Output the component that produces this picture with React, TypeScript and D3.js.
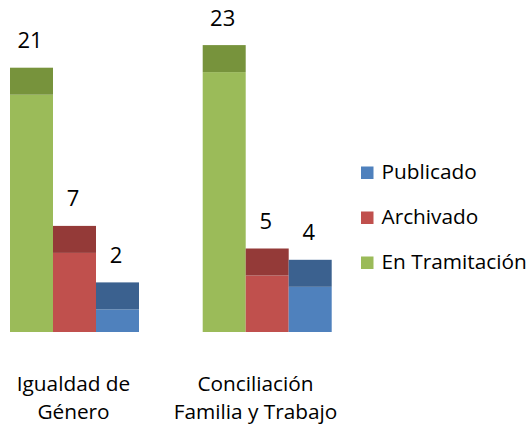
import React from "react";
import * as d3 from "d3";

const categories = ["Igualdad de Género", "Conciliación Familia y Trabajo"];
const categoryLines = [["Igualdad de", "Género"], ["Conciliación", "Familia y Trabajo"]];
const seriesNames = ["En Tramitación", "Archivado", "Publicado"];
const legendOrder = ["Publicado", "Archivado", "En Tramitación"];
const enTramitacion = [21, 23];
const archivado = [7, 5];
const publicado = [2, 4];
const seriesValues: Record<string, number[]> = {
  "En Tramitación": enTramitacion,
  Archivado: archivado,
  Publicado: publicado,
};
const frontColors: Record<string, string> = {
  "En Tramitación": "#9BBB59",
  Archivado: "#C0504D",
  Publicado: "#4F81BD",
};
const topColors: Record<string, string> = {
  "En Tramitación": "#77933C",
  Archivado: "#943A38",
  Publicado: "#3B618F",
};

const W = 532;
const H = 427;
const FONT = "'Open Sans', sans-serif";

export default function App() {
  const baseY = 332;
  const depth = 27;
  const y = d3.scaleLinear().domain([0, 25]).range([baseY, baseY - 25 * 11.3]);
  const x0 = d3
    .scaleBand<string>()
    .domain(categories)
    .range([10, 331.7])
    .paddingInner(0.3306)
    .paddingOuter(0);
  const x1 = d3.scaleBand<string>().domain(seriesNames).range([0, x0.bandwidth()]);
  const xLabel = d3.scalePoint<string>().domain(categories).range([73.5, 255.5]);
  const legendY = d3.scalePoint<string>().domain(legendOrder).range([179, 269]);

  return (
    <svg
      width={W}
      height={H}
      style={{ position: "absolute", left: 0, top: 0, background: "#fff" }}
      fontFamily={FONT}
    >
      {categories.map((c, ci) => (
        <g key={c}>
          {seriesNames.map((s) => {
            const v = seriesValues[s][ci];
            const bx = (x0(c) ?? 0) + (x1(s) ?? 0);
            const bw = x1.bandwidth();
            const yTop = y(v);
            return (
              <g key={s}>
                <rect x={bx} y={yTop} width={bw} height={baseY - yTop} fill={frontColors[s]} />
                <rect x={bx} y={yTop - depth} width={bw} height={depth} fill={topColors[s]} />
                <text
                  x={bx + bw / 2 - 1.5}
                  y={yTop - depth - 19.5}
                  textAnchor="middle"
                  fontSize={22}
                  fill="#000"
                >
                  {v}
                </text>
              </g>
            );
          })}
          {categoryLines[ci].map((line, li) => (
            <text
              key={li}
              x={xLabel(c)}
              y={390.5 + li * 28.3}
              textAnchor="middle"
              fontSize={20.8}
              fill="#000"
            >
              {line}
            </text>
          ))}
        </g>
      ))}
      {legendOrder.map((s) => {
        const ly = legendY(s) ?? 0;
        return (
          <g key={s}>
            <rect x={361} y={ly - 12.5} width={12.5} height={12.5} fill={frontColors[s]} />
            <text x={381.5} y={ly} fontSize={20.8} fill="#000">
              {s}
            </text>
          </g>
        );
      })}
    </svg>
  );
}
